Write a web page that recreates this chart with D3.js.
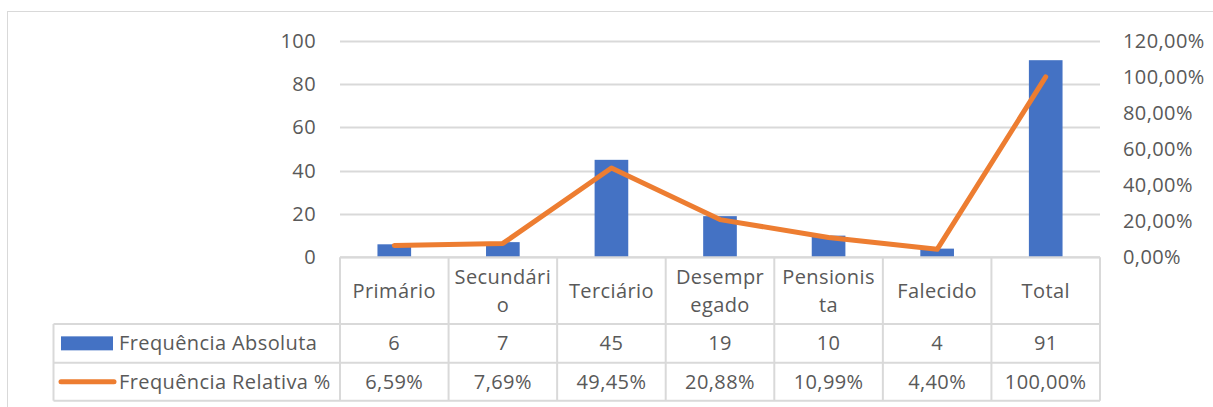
<!DOCTYPE html>
<html>
<head>
<meta charset="utf-8">
<script src="https://cdn.jsdelivr.net/npm/d3@7"></script>
<style>
  body { margin: 0; background: #fff; }
  text { font-family: "Open Sans", "Noto Sans", sans-serif; fill: #595959; letter-spacing: 0.4px; }
</style>
</head>
<body>
<svg id="chart"></svg>
<script>
// dados
var categorias = ["Primário", "Secundário", "Terciário", "Desempregado", "Pensionista", "Falecido", "Total"]
// quebras de linha como no Excel
var rotulos = [["Primário"], ["Secundári", "o"], ["Terciário"], ["Desempr", "egado"], ["Pensionis", "ta"], ["Falecido"], ["Total"]]
var freqAbsoluta = [6, 7, 45, 19, 10, 4, 91]
var freqRelativa = [6.59, 7.69, 49.45, 20.88, 10.99, 4.40, 100.00]
var ticksEsq = [0, 20, 40, 60, 80, 100]
var ticksDir = [0, 20, 40, 60, 80, 100, 120]
var nomesSeries = ["Frequência Absoluta", "Frequência Relativa %"]

var width = 1213,
    height = 407

var mainColor = '#4472c4'
var lineColor = '#ed7d31'
var gridColor = '#d9d9d9'
var fs = "20px"

var svg = d3.select("#chart")
    .attr("width", width)
    .attr("height", height)

// moldura externa
svg.append("rect")
    .attr("x", 7.5)
    .attr("y", 11.5)
    .attr("width", 1220)
    .attr("height", 420)
    .attr("fill", "none")
    .attr("stroke", gridColor)

var plot = { left: 340, right: 1100, top: 40.7, bottom: 257.3 }

var x = d3.scaleBand()
    .domain(categorias)
    .range([plot.left, plot.right])
    .padding(0)

var y = d3.scaleLinear()
    .domain([0, 100])
    .range([plot.bottom, plot.top])

var y2 = d3.scaleLinear()
    .domain([0, 120])
    .range([plot.bottom, plot.top])

// grade
svg.append("g")
    .selectAll("line")
    .data(ticksEsq)
    .enter()
    .append("line")
    .attr("x1", plot.left)
    .attr("x2", plot.right)
    .attr("y1", d => Math.round(y(d)) + 0.5)
    .attr("y2", d => Math.round(y(d)) + 0.5)
    .attr("stroke", gridColor)
    .attr("stroke-width", 2)

// eixo esquerdo
var gy = svg.append("g")
    .attr("transform", "translate(" + (plot.left - 6) + ",0)")
    .call(d3.axisLeft(y).tickValues(ticksEsq).tickSize(0).tickPadding(18))
gy.select(".domain").remove()
gy.selectAll("text")
    .style("font-size", fs)
    .style("font-family", null)
    .attr("fill", "#595959")

// eixo direito
var gy2 = svg.append("g")
    .attr("transform", "translate(" + (plot.right + 5) + ",0)")
    .call(d3.axisRight(y2).tickValues(ticksDir).tickSize(0).tickPadding(18)
        .tickFormat(d => d3.format(".2f")(d).replace(".", ",") + "%"))
gy2.select(".domain").remove()
gy2.selectAll("text")
    .style("font-size", fs)
    .style("font-family", null)
    .attr("fill", "#595959")

// barras
var barW = x.bandwidth() * 0.31
svg.append("g")
    .selectAll("rect")
    .data(freqAbsoluta)
    .enter()
    .append("rect")
    .attr("x", (d, i) => x(categorias[i]) + x.bandwidth() / 2 - barW / 2)
    .attr("y", d => y(d))
    .attr("width", barW)
    .attr("height", d => y(0) - y(d))
    .attr("fill", mainColor)

// linha
var linha = d3.line()
    .x((d, i) => x(categorias[i]) + x.bandwidth() / 2)
    .y(d => y2(d))

svg.append("path")
    .datum(freqRelativa)
    .attr("d", linha)
    .attr("fill", "none")
    .attr("stroke", lineColor)
    .attr("stroke-width", 5)
    .attr("stroke-linecap", "round")
    .attr("stroke-linejoin", "round")

// tabela de dados
var linhas = [plot.bottom, 324, 362.7, 400.7]
var legX = 53.5
var tabela = svg.append("g")
var cor = gridColor

// linhas horizontais
tabela.append("line")
    .attr("x1", plot.left).attr("x2", plot.right)
    .attr("y1", linhas[0]).attr("y2", linhas[0])
    .attr("stroke", cor).attr("stroke-width", 2)
linhas.slice(1).forEach(function (ly) {
    tabela.append("line")
        .attr("x1", legX).attr("x2", plot.right)
        .attr("y1", ly).attr("y2", ly)
        .attr("stroke", cor).attr("stroke-width", 2)
})
// linhas verticais
var cortes = categorias.map(c => x(c)).concat([plot.right])
cortes.forEach(function (cx) {
    tabela.append("line")
        .attr("x1", cx).attr("x2", cx)
        .attr("y1", linhas[0]).attr("y2", linhas[3])
        .attr("stroke", cor).attr("stroke-width", 2)
})
tabela.append("line")
    .attr("x1", legX).attr("x2", legX)
    .attr("y1", linhas[1]).attr("y2", linhas[3])
    .attr("stroke", cor).attr("stroke-width", 2)

// rotulos das categorias
rotulos.forEach(function (ls, i) {
    var cx = x(categorias[i]) + x.bandwidth() / 2
    var cy = (linhas[0] + linhas[1]) / 2
    var lh = 28
    ls.forEach(function (t, j) {
        tabela.append("text")
            .attr("x", cx)
            .attr("y", cy + (j - (ls.length - 1) / 2) * lh)
            .attr("dy", "0.35em")
            .attr("text-anchor", "middle")
            .style("font-size", fs)
            .text(t)
    })
})

// valores
var fmtPct = d => d3.format(".2f")(d).replace(".", ",") + "%"
freqAbsoluta.forEach(function (v, i) {
    tabela.append("text")
        .attr("x", x(categorias[i]) + x.bandwidth() / 2)
        .attr("y", (linhas[1] + linhas[2]) / 2)
        .attr("dy", "0.35em")
        .attr("text-anchor", "middle")
        .style("font-size", fs)
        .text(v)
})
freqRelativa.forEach(function (v, i) {
    tabela.append("text")
        .attr("x", x(categorias[i]) + x.bandwidth() / 2)
        .attr("y", (linhas[2] + linhas[3]) / 2)
        .attr("dy", "0.35em")
        .attr("text-anchor", "middle")
        .style("font-size", fs)
        .text(fmtPct(v))
})

// legenda
var ly1 = (linhas[1] + linhas[2]) / 2
var ly2 = (linhas[2] + linhas[3]) / 2
tabela.append("rect")
    .attr("x", 61).attr("y", ly1 - 7)
    .attr("width", 52).attr("height", 14)
    .attr("fill", mainColor)
tabela.append("line")
    .attr("x1", 61).attr("x2", 114)
    .attr("y1", ly2).attr("y2", ly2)
    .attr("stroke", lineColor).attr("stroke-width", 5)
    .attr("stroke-linecap", "round")
nomesSeries.forEach(function (n, i) {
    tabela.append("text")
        .attr("x", 119)
        .attr("y", i == 0 ? ly1 : ly2)
        .attr("dy", "0.35em")
        .style("font-size", fs)
        .text(n)
})
</script>
</body>
</html>
